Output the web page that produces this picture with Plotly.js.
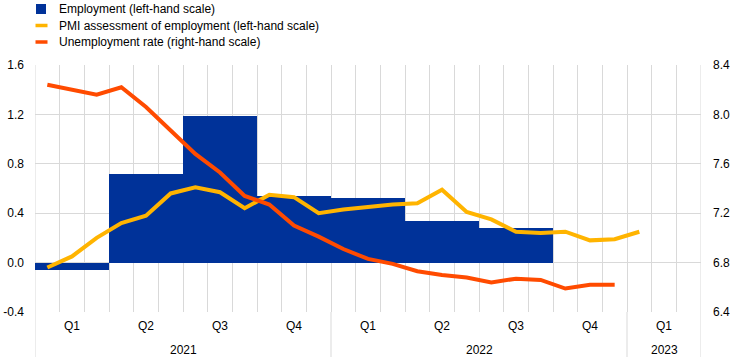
<!DOCTYPE html>
<html>
<head>
<meta charset="utf-8">
<script src="https://cdn.plot.ly/plotly-3.0.1.min.js"></script>
<style>
  html, body { margin: 0; padding: 0; background: #fff; }
  #chart { width: 744px; height: 361px; }
</style>
</head>
<body>
<div id="chart"></div>
<script>
// ---- Data ----
const months = [
  'Jan 2021','Feb 2021','Mar 2021','Apr 2021','May 2021','Jun 2021',
  'Jul 2021','Aug 2021','Sep 2021','Oct 2021','Nov 2021','Dec 2021',
  'Jan 2022','Feb 2022','Mar 2022','Apr 2022','May 2022','Jun 2022',
  'Jul 2022','Aug 2022','Sep 2022','Oct 2022','Nov 2022','Dec 2022',
  'Jan 2023','Feb 2023','Mar 2023'
];
const quarterTickText = ['Q1','Q2','Q3','Q4','Q1','Q2','Q3','Q4','Q1'];
const years = ['2021','2022','2023'];

// Employment, quarter-on-quarter % change (Q1 2021 - Q3 2022), left-hand scale
const employment = [-0.06, 0.72, 1.19, 0.54, 0.52, 0.34, 0.28];

// PMI assessment of employment (Jan 2021 - Jan 2023), left-hand scale
const pmiEmployment = [
  -0.04, 0.05, 0.20, 0.32, 0.38, 0.56, 0.61, 0.57, 0.44, 0.55, 0.53, 0.40,
  0.43, 0.45, 0.47, 0.48, 0.59, 0.41, 0.35, 0.25, 0.24, 0.25, 0.18, 0.19,
  0.25
];

// Unemployment rate (Jan 2021 - Dec 2022), right-hand scale
const unemployment = [
  8.24, 8.20, 8.16, 8.22, 8.06, 7.87, 7.68, 7.53, 7.34, 7.27, 7.10, 7.01,
  6.91, 6.83, 6.79, 6.73, 6.70, 6.68, 6.64, 6.67, 6.66, 6.59, 6.62, 6.62
];

const seriesNames = [
  'Employment (left-hand scale)',
  'PMI assessment of employment (left-hand scale)',
  'Unemployment rate (right-hand scale)'
];

const leftTicks = [-0.4, 0.0, 0.4, 0.8, 1.2, 1.6];
const rightTicks = [6.4, 6.8, 7.2, 7.6, 8.0, 8.4];

// ---- Derived positions (month index scale) ----
const monthPos = months.map((m, i) => i + 0.5);
const quarterPos = quarterTickText.map((q, i) => i * 3 + 1.5);
const yearPos = years.map(y => {
  const idx = months.map((m, i) => m.endsWith(y) ? i : -1).filter(i => i >= 0);
  return (idx[0] + idx[idx.length - 1] + 1) / 2;
});
const yearBounds = years.map(y => months.findIndex(m => m.endsWith(y))).concat([months.length]);

const BLUE = '#003299', YELLOW = '#ffb400', ORANGE = '#ff4b00';
const COLORS = [BLUE, YELLOW, ORANGE];
const GRID = '#d9d9d9';
const FONT = 'Arial, "Liberation Sans", sans-serif';

const W = 744, H = 361;
const M = { l: 35, r: 43, t: 65, b: 49 };
const PW = W - M.l - M.r, PH = H - M.t - M.b;
// pixel -> paper helpers for the legend / decorations
const px = v => (v - M.l) / PW;
const py = v => 1 + (M.t - v) / PH;

const traces = [
  {
    type: 'bar', name: seriesNames[0],
    x: quarterPos.slice(0, employment.length), y: employment,
    width: 3, marker: { color: BLUE, line: { width: 0 } },
    xaxis: 'x', yaxis: 'y', hoverinfo: 'y'
  },
  {
    type: 'scatter', mode: 'lines', name: seriesNames[1],
    x: monthPos.slice(0, pmiEmployment.length), y: pmiEmployment,
    line: { color: YELLOW, width: 4 }, xaxis: 'x', yaxis: 'y'
  },
  {
    type: 'scatter', mode: 'lines', name: seriesNames[2],
    x: monthPos.slice(0, unemployment.length), y: unemployment,
    line: { color: ORANGE, width: 4 }, xaxis: 'x', yaxis: 'y2'
  }
];

// year separators below the axis (and outer borders)
const shapes = yearBounds.map(b => ({
  type: 'line', xref: 'x', yref: 'paper',
  x0: b, x1: b,
  y0: (b === 0 || b === months.length) ? 1 : 0, y1: -45 / PH,
  line: { color: GRID, width: 1 }, layer: 'below'
}));

// legend (drawn manually for compact row spacing)
const legendRows = [9, 25.5, 42];
seriesNames.forEach((n, i) => {
  const cy = legendRows[i];
  if (i === 0) {
    shapes.push({
      type: 'rect', xref: 'paper', yref: 'paper',
      x0: px(36), x1: px(46), y0: py(cy - 5), y1: py(cy + 5),
      fillcolor: COLORS[i], line: { width: 0 }
    });
  } else {
    shapes.push({
      type: 'line', xref: 'paper', yref: 'paper',
      x0: px(35.5), x1: px(47.5), y0: py(cy), y1: py(cy),
      line: { color: COLORS[i], width: 3.5 }
    });
  }
});

const annotations = years.map((y, i) => ({
  xref: 'x', yref: 'paper', x: yearPos[i], y: 0, yshift: -38,
  text: y, showarrow: false, xanchor: 'center', yanchor: 'middle',
  font: { family: FONT, size: 12, color: '#000' }
})).concat(seriesNames.map((n, i) => ({
  xref: 'paper', yref: 'paper', x: px(57), y: py(legendRows[i]),
  text: n, showarrow: false, xanchor: 'left', yanchor: 'middle',
  font: { family: FONT, size: 12, color: '#000' }
})));

const layout = {
  width: W, height: H,
  margin: { l: M.l, r: M.r, t: M.t, b: M.b, pad: 0 },
  paper_bgcolor: '#fff', plot_bgcolor: '#fff',
  font: { family: FONT, size: 12, color: '#000' },
  showlegend: false,
  bargap: 0,
  xaxis: {
    type: 'linear', range: [0, months.length],
    tickmode: 'array', tickvals: quarterPos, ticktext: quarterTickText,
    showgrid: false, ticks: '', zeroline: false, showline: false,
    ticklabelstandoff: 5,
    minor: { tickmode: 'linear', tick0: 0, dtick: 1, showgrid: true, gridcolor: GRID, gridwidth: 1, ticks: '' },
    fixedrange: true
  },
  yaxis: {
    range: [-0.4, 1.6],
    tickmode: 'array', tickvals: leftTicks, ticktext: leftTicks.map(v => v.toFixed(1)),
    showgrid: true, gridcolor: GRID, gridwidth: 1,
    zeroline: false, showline: false, ticks: '',
    ticklabelstandoff: 10, fixedrange: true
  },
  yaxis2: {
    overlaying: 'y', side: 'right', anchor: 'x',
    range: [6.4, 8.4],
    tickmode: 'array', tickvals: rightTicks, ticktext: rightTicks.map(v => v.toFixed(1)),
    showgrid: false, zeroline: false, showline: false, ticks: '',
    ticklabelstandoff: 11, fixedrange: true
  },
  shapes: shapes,
  annotations: annotations
};

Plotly.newPlot('chart', traces, layout, { displayModeBar: false, staticPlot: true });
</script>
</body>
</html>
